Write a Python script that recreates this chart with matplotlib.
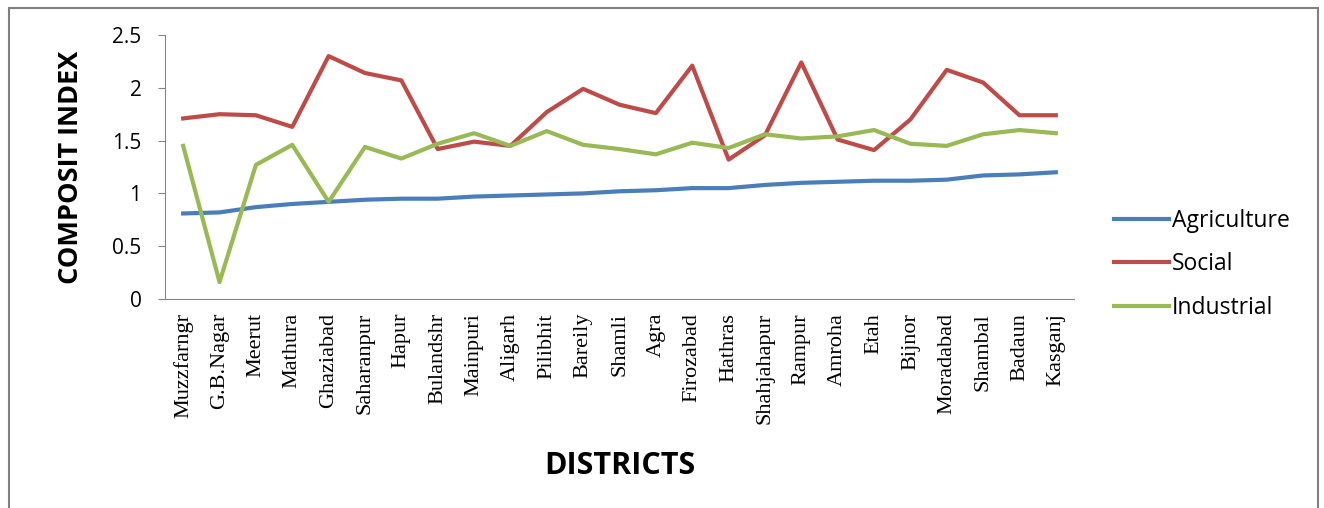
import numpy as np
import matplotlib.pyplot as plt
from matplotlib.patches import Rectangle

districts = ["Muzzfarngr", "G.B.Nagar", "Meerut", "Mathura", "Ghaziabad", "Saharanpur",
             "Hapur", "Bulandshr", "Mainpuri", "Aligarh", "Pilibhit", "Bareily", "Shamli",
             "Agra", "Firozabad", "Hathras", "Shahjahapur", "Rampur", "Amroha", "Etah",
             "Bijnor", "Moradabad", "Shambal", "Badaun", "Kasganj"]
agriculture = [0.81, 0.82, 0.87, 0.90, 0.92, 0.94, 0.95, 0.95, 0.97, 0.98, 0.99, 1.00, 1.02,
               1.03, 1.05, 1.05, 1.08, 1.10, 1.11, 1.12, 1.12, 1.13, 1.17, 1.18, 1.20]
social = [1.71, 1.75, 1.74, 1.63, 2.30, 2.14, 2.07, 1.42, 1.49, 1.45, 1.77, 1.99, 1.84,
          1.76, 2.21, 1.32, 1.55, 2.24, 1.51, 1.41, 1.70, 2.17, 2.05, 1.74, 1.74]
industrial = [1.45, 0.16, 1.27, 1.46, 0.92, 1.44, 1.33, 1.47, 1.57, 1.45, 1.59, 1.46, 1.42,
              1.37, 1.48, 1.43, 1.56, 1.52, 1.54, 1.60, 1.47, 1.45, 1.56, 1.60, 1.57]

sans = "Open Sans"
fig = plt.figure(figsize=(13.24, 5.08), dpi=100)
fig.patches.append(Rectangle((9 / 1324, -0.01), 1309 / 1324, 0.995, transform=fig.transFigure,
                             fill=False, edgecolor="#808080", linewidth=1.5))
ax = fig.add_axes([165 / 1324, 1 - 299 / 508, 909 / 1324, 264 / 508])

x = np.arange(len(districts))
ax.plot(x, agriculture, color="#4A7EBB", lw=3, label="Agriculture")
ax.plot(x, social, color="#BE4B48", lw=3, label="Social")
ax.plot(x, industrial, color="#98B954", lw=3, label="Industrial")

ax.set_xlim(-0.5, len(districts) - 0.5)
ax.set_ylim(0, 2.5)
ax.set_yticks([0, 0.5, 1, 1.5, 2, 2.5])
ax.set_yticklabels(["0", "0.5", "1", "1.5", "2", "2.5"], fontfamily=sans, fontsize=15)
ax.set_xticks(x)
ax.set_xticklabels(districts, rotation=90, fontfamily="Liberation Serif", fontsize=16)
ax.tick_params(axis="x", length=0, pad=10)
ax.tick_params(axis="y", length=5, color="#868686", pad=12)
for s in ["top", "right"]:
    ax.spines[s].set_visible(False)
for s in ["left", "bottom"]:
    ax.spines[s].set_color("#868686")

ax.set_ylabel("COMPOSIT INDEX", fontfamily=sans, fontweight="bold", fontsize=19.5, labelpad=20)
fig.text(620 / 1324, 1 - 466 / 508, "DISTRICTS", fontfamily=sans, fontweight="bold",
         fontsize=22, ha="center", va="center")

ax.legend(loc="center left", bbox_to_anchor=(1.021, 0.131), frameon=False,
          prop={"family": sans, "size": 16.5}, handlelength=2.4, handletextpad=0.15,
          labelspacing=0.85)

fig.savefig("out.png", dpi=100)
